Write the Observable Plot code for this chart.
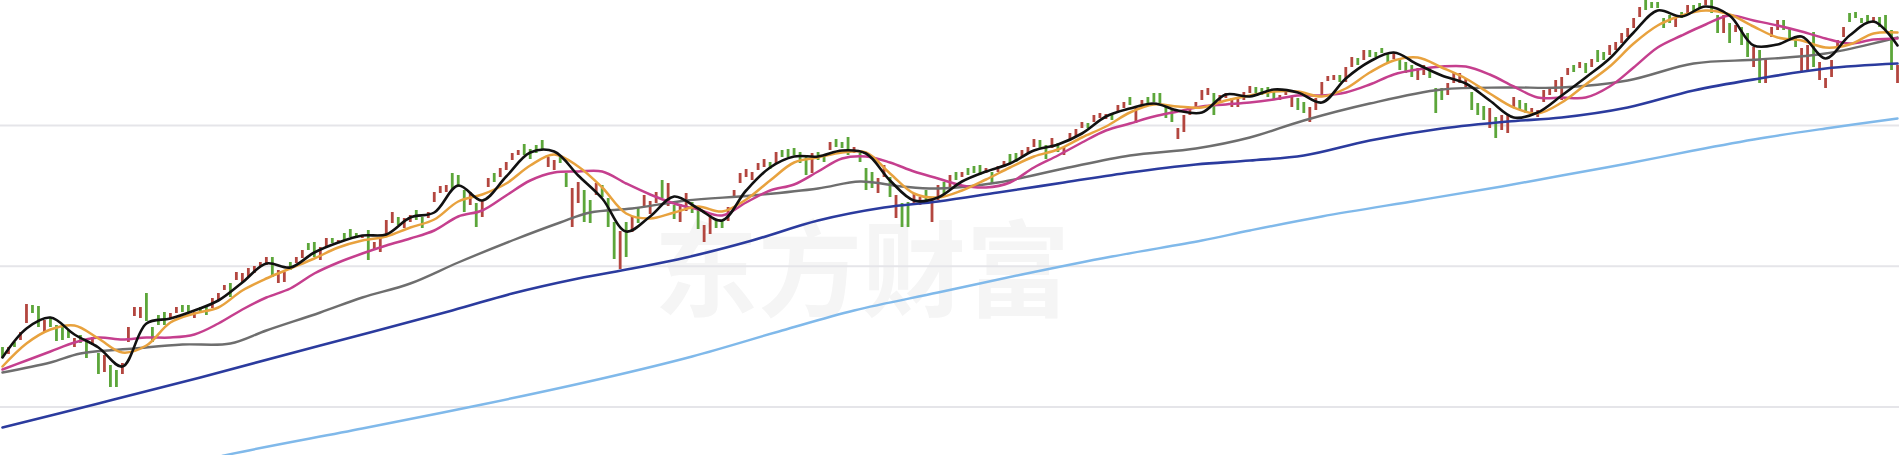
<!DOCTYPE html>
<html><head><meta charset="utf-8">
<script src="https://cdn.jsdelivr.net/npm/d3@7"></script>
<script src="https://cdn.jsdelivr.net/npm/@observablehq/plot@0.6"></script>
<style>
html,body{margin:0;padding:0;background:#fff;}
#wrap{position:relative;width:1899px;height:455px;overflow:hidden;}
#wm{position:absolute;left:654px;top:212px;font-family:"Noto Sans CJK SC",sans-serif;font-weight:bold;font-size:104px;color:#f5f5f5;line-height:104px;white-space:nowrap;}
#chart{position:absolute;left:0;top:0;}
</style></head><body>
<div id="wrap"><div id="wm">东方财富</div><div id="chart"></div></div>
<script>
// candle opens / closes (daily bars, index 0..316)
const opens = [
153,146,158,160,177,195,194,168,183,175,
173,170,153,165,160,155,147,128,135,130,
126,158,184,182,207,173,185,188,182,187,
195,195,182,193,193,192,200,210,217,220,
218,223,227,233,235,243,217,218,238,237,
242,257,258,240,253,262,257,267,271,267,
262,270,250,248,265,277,283,272,278,290,
283,282,298,307,308,327,325,310,295,297,
283,313,327,323,330,340,345,356,351,355,
360,333,330,345,327,273,297,310,300,305,
315,302,278,231,278,268,293,293,286,297,
320,294,295,278,289,298,292,258,266,281,
280,279,303,317,323,320,330,333,338,337,
350,351,352,348,343,327,348,345,350,361,
358,363,347,347,332,328,307,323,323,282,
297,298,297,295,310,278,300,318,313,328,
323,332,334,335,327,328,328,333,346,347,
343,347,353,360,355,352,357,345,360,363,
372,377,378,382,381,386,388,392,403,377,
393,403,407,407,395,392,361,368,385,393,
400,405,407,397,402,393,393,400,407,413,
412,413,408,400,405,393,402,398,378,390,
405,419,420,425,418,433,442,440,450,448,
452,447,441,442,438,435,420,425,433,412,
412,405,417,417,413,408,397,394,372,383,
370,367,393,400,397,385,383,398,405,408,
400,425,435,432,437,433,450,448,445,450,
457,463,472,483,500,498,498,482,485,473,
488,487,495,497,495,500,485,467,477,468,
473,467,433,450,417,463,470,480,472,463,
428,428,468,420,412,423,452,463,487,488,
482,485,477,483,485,470,417];
const closes = [
142,153,153,168,196,187,173,180,173,159,
160,162,162,157,142,163,126,145,113,113,
137,173,193,193,179,158,175,175,187,193,
188,187,188,187,185,202,207,215,203,228,
227,232,234,238,243,223,230,228,230,243,
250,250,243,253,262,257,260,260,263,262,
265,240,258,263,280,288,275,282,285,280,
272,288,308,314,315,310,313,288,308,273,
300,322,318,332,338,347,350,345,341,347,
350,343,340,337,313,312,318,278,277,317,
303,273,241,269,243,284,277,305,299,308,
302,317,281,296,307,287,271,275,285,272,
272,293,310,327,331,328,337,341,331,348,
343,343,345,337,325,347,340,338,358,353,
352,345,353,338,310,312,322,335,303,305,
273,273,307,303,300,300,315,305,325,320,
328,325,327,325,332,317,334,339,337,338,
350,353,361,352,341,362,348,353,367,371,
378,372,385,387,386,380,395,398,395,393,
400,397,398,397,382,378,372,385,393,398,
410,412,385,405,407,402,403,408,414,407,
405,403,400,405,410,403,390,387,393,402,
418,424,425,418,433,443,435,450,443,443,
447,437,447,430,427,423,432,435,422,387,
400,417,428,427,422,390,385,380,392,362,
385,385,403,390,387,392,390,410,413,420,
423,432,428,438,427,441,438,440,455,458,
467,472,482,493,490,492,492,472,477,482,
482,495,488,492,500,487,467,485,457,475,
455,443,453,417,440,473,480,470,462,453,
452,455,433,438,422,440,460,473,478,482,
477,477,483,473,470,430,435];

// short moving averages, read every 4th bar
const maIdx = d3.range(0, 317, 4);
const ma5 = [
143,172,183,166,153,134,177,182,190,200,
218,237,233,248,258,265,266,283,288,315,
300,324,348,349,325,302,269,284,304,292,
280,310,333,344,344,350,347,320,300,303,
319,329,337,350,356,367,384,392,397,390,
388,406,404,411,408,398,422,439,448,436,
425,417,400,383,388,405,423,442,468,490,
484,494,485,455,456,464,442,465,479,455];
const ma10 = [
134,157,171,175,162,148,155,178,187,193,
210,222,232,242,253,260,264,273,281,299,
306,317,335,346,334,313,287,282,288,294,
289,301,320,338,343,348,348,327,307,303,
310,321,333,344,351,363,374,388,396,394,
393,400,405,409,409,404,412,428,440,443,
433,422,407,393,387,398,416,434,457,475,
485,490,486,474,463,460,453,456,467,468];
const ma20 = [
131,140,149,158,163,161,163,163,166,177,
191,203,212,227,238,247,255,262,270,284,
290,305,320,328,329,329,317,306,297,291,
285,298,310,316,329,342,344,338,329,322,
315,313,318,333,345,358,370,377,384,389,
394,396,398,401,405,405,408,416,426,431,
434,434,426,414,403,403,403,414,433,453,
465,476,485,480,475,469,462,457,461,462];

// long moving averages, read at irregular bars
const ma60Idx = [0,8,13,22,30,38,44,53,60,68,76,85,93,98,105,114,125,136,143,150,156,166,177,188,199,208,217,228,240,251,260,271,282,293,304,316];
const ma60 = [128,138,147,152,156,157,170,188,203,217,238,260,278,288,292,300,305,312,319,314,312,318,332,345,352,363,380,397,411,413,413,420,437,441,447,463];
const ma120Idx = [0,16,33,53,75,85,96,105,114,125,136,147,156,166,177,188,199,208,217,228,240,251,260,271,282,293,304,316];
const ma120 = [73,97,123,155,190,207,222,232,243,260,280,293,299,308,318,328,336,340,345,360,372,379,383,393,410,422,432,437];
const ma250Idx = [30,37,60,80,100,115,130,142,156,170,185,200,208,220,236,250,260,271,282,293,304,316];
const ma250 = [34,45,72,96,122,144,170,190,208,226,244,260,270,284,300,314,325,337,350,362,372,382];

const gridValues = [93.5, 234.25, 375];

const bars = opens.map((o, i) => ({i, open: o, close: closes[i], up: closes[i] >= o}));
const pts = (idx, vals) => idx.map((i, k) => ({i, v: vals[k]}));

const lineOpts = (stroke, w) => ({x: "i", y: "v", stroke, strokeWidth: w, curve: "catmull-rom", clip: true});

const chart = Plot.plot({
  width: 1899, height: 455, margin: 0,
  style: {background: "transparent"},
  x: {domain: [-0.33, 316.33], axis: null},
  y: {domain: [45, 500], axis: null},
  marks: [
    Plot.ruleY(gridValues, {stroke: "#e5e5e9", strokeWidth: 2}),
    Plot.ruleX(bars, {x: "i", y1: "open", y2: "close", stroke: d => d.up ? "#b3463f" : "#5ca63a", strokeWidth: 2.8, clip: true}),
    Plot.line(pts(ma250Idx, ma250), lineOpts("#80b9ea", 2.4)),
    Plot.line(pts(ma120Idx, ma120), lineOpts("#2b3b9e", 2.6)),
    Plot.line(pts(ma60Idx, ma60), lineOpts("#6e6e6e", 2.4)),
    Plot.line(pts(maIdx, ma20), lineOpts("#c53f8e", 2.5)),
    Plot.line(pts(maIdx, ma10), lineOpts("#e8a23e", 2.5)),
    Plot.line(pts(maIdx, ma5), lineOpts("#111111", 2.6))
  ]
});
document.getElementById("chart").appendChild(chart);
</script>
</body></html>
